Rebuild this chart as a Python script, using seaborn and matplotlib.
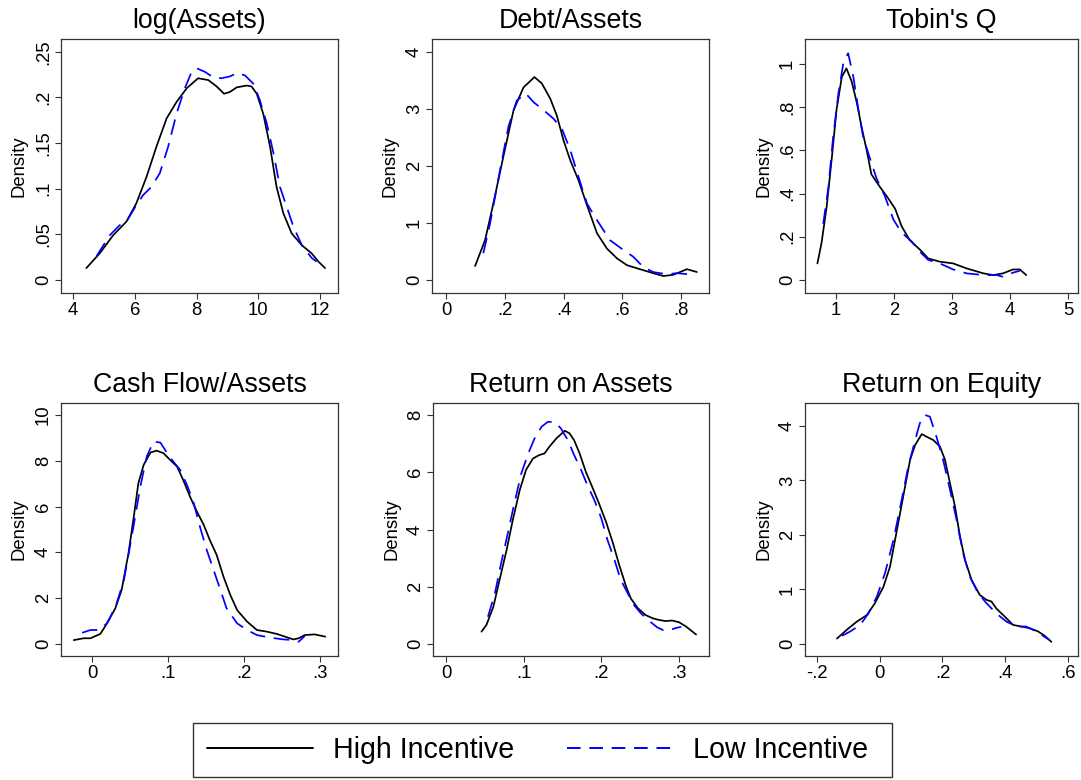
import matplotlib
matplotlib.use("Agg")
import matplotlib.pyplot as plt
from matplotlib.lines import Line2D
from matplotlib.patches import Rectangle
import pandas as pd
import seaborn as sns

# ---- series labels and panel titles ----
groups = ["High Incentive", "Low Incentive"]
titles = ["log(Assets)", "Debt/Assets", "Tobin's Q",
          "Cash Flow/Assets", "Return on Assets", "Return on Equity"]

# ---- kernel density curves (x grid, density) per variable and group ----
assets_x_hi = [4.43, 4.86, 5.30, 5.73, 6.05, 6.38, 6.70, 7.03, 7.35, 7.68, 8.05, 8.38, 8.65, 8.89,
               9.08, 9.30, 9.62, 9.78, 9.95, 10.16, 10.38, 10.59, 10.81, 11.08, 11.41, 11.73, 11.95, 12.16]
assets_y_hi = [.013, .029, .049, .064, .084, .113, .146, .177, .195, .210, .221, .219, .212, .204,
               .206, .211, .213, .212, .204, .182, .146, .102, .073, .051, .038, .029, .020, .013]
assets_x_lo = [4.76, 5.19, 5.51, 5.73, 6.05, 6.27, 6.54, 6.81, 7.08, 7.35, 7.62, 7.84, 8.00, 8.27, 8.54,
               8.81, 9.08, 9.32, 9.57, 9.84, 10.05, 10.27, 10.49, 10.70, 10.92, 11.14, 11.41, 11.73, 11.89]
assets_y_lo = [.026, .049, .060, .064, .082, .093, .102, .117, .146, .182, .210, .228, .232, .228, .222,
               .221, .223, .227, .224, .215, .197, .172, .139, .102, .080, .058, .038, .024, .020]

debt_x_hi = [.099, .133, .161, .195, .230, .264, .301, .326, .355, .377, .400, .423, .451, .480,
             .514, .548, .582, .616, .660, .705, .740, .773, .797, .820, .854]
debt_y_hi = [.245, .70, 1.34, 2.16, 2.98, 3.38, 3.56, 3.45, 3.18, 2.89, 2.45, 2.10, 1.75, 1.31,
             .82, .55, .38, .26, .19, .12, .07, .09, .14, .19, .14]
debt_x_lo = [.127, .150, .184, .2125, .241, .272, .298, .332, .366, .394, .423, .451, .480, .514,
             .558, .603, .637, .671, .705, .752, .786, .825]
debt_y_lo = [.47, .99, 1.93, 2.69, 3.15, 3.27, 3.12, 2.98, 2.83, 2.66, 2.28, 1.81, 1.34, 1.05,
             .70, .53, .41, .23, .14, .10, .12, .10]

tobin_x_hi = [.68, .75, .84, .93, 1.01, 1.10, 1.18, 1.27, 1.36, 1.44, 1.53, 1.61, 1.76, 1.87,
              2.02, 2.13, 2.27, 2.45, 2.59, 2.79, 3.02, 3.25, 3.54, 3.71, 3.88, 4.05, 4.17, 4.28]
tobin_y_hi = [.077, .17, .34, .57, .79, .94, .98, .92, .82, .71, .60, .49, .43, .39,
              .33, .25, .185, .14, .10, .085, .077, .054, .031, .023, .031, .049, .049, .023]
tobin_x_lo = [.78, .87, .95, 1.04, 1.13, 1.21, 1.30, 1.38, 1.47, 1.59, 1.70, 1.84, 1.99,
              2.13, 2.30, 2.45, 2.59, 2.79, 3.02, 3.25, 3.54, 3.77, 3.88, 4.05, 4.17]
tobin_y_lo = [.26, .43, .66, .86, 1.01, 1.05, .94, .80, .66, .56, .47, .39, .28,
              .22, .18, .13, .093, .077, .049, .031, .023, .023, .015, .034, .043]

cf_x_hi = [-.024, -.011, -.002, .011, .0197, .0307, .039, .048, .055, .061, .068, .077, .085, .094,
           .103, .112, .120, .129, .138, .147, .155, .164, .173, .182, .191, .204, .217, .230,
           .243, .254, .265, .272, .280, .293, .307]
cf_y_hi = [.17, .25, .25, .44, .90, 1.56, 2.36, 3.96, 5.56, 7.02, 7.82, 8.36, 8.44, 8.33,
           8.03, 7.74, 7.16, 6.43, 5.78, 5.20, 4.54, 3.89, 2.94, 2.14, 1.48, .98, .61, .54,
           .44, .32, .20, .25, .39, .42, .32]
cf_x_lo = [-.013, -.002, .009, .0197, .031, .042, .053, .064, .072, .081, .090, .099, .107, .116,
           .125, .134, .142, .151, .160, .169, .177, .191, .204, .217, .234, .252, .265, .272, .280]
cf_y_lo = [.49, .61, .61, .90, 1.63, 2.79, 4.83, 6.94, 8.18, 8.84, 8.79, 8.33, 7.96, 7.60,
           6.94, 6.14, 5.12, 4.10, 3.23, 2.36, 1.56, .90, .61, .39, .28, .20, .17, .10, .35]

roa_x_hi = [.0457, .052, .061, .069, .078, .086, .095, .103, .112, .120, .127, .133, .142, .153,
            .159, .165, .172, .180, .189, .197, .206, .215, .223, .232, .238, .247, .257, .266,
            .274, .283, .291, .300, .309, .322]
roa_y_hi = [.43, .66, 1.30, 2.24, 3.28, 4.33, 5.38, 6.08, 6.48, 6.60, 6.66, 6.89, 7.18, 7.45,
            7.36, 7.12, 6.66, 6.02, 5.44, 4.91, 4.27, 3.52, 2.76, 2.00, 1.59, 1.25, 1.01, .90,
            .84, .80, .82, .76, .61, .33]
roa_x_lo = [.054, .063, .071, .080, .088, .097, .106, .114, .123, .131, .140, .148, .157, .165,
            .174, .182, .191, .200, .208, .217, .225, .234, .242, .251, .262, .272, .280, .288,
            .296, .303]
roa_y_lo = [.95, 1.77, 2.82, 3.92, 4.91, 5.96, 6.66, 7.18, 7.59, 7.76, 7.76, 7.53, 7.12, 6.60,
            6.08, 5.55, 5.03, 4.39, 3.63, 2.93, 2.24, 1.77, 1.36, 1.07, .80, .58, .48, .48,
            .56, .60]

roe_x_hi = [-.136, -.105, -.073, -.041, -.015, .012, .033, .049, .065, .081, .097, .113, .134,
            .150, .171, .192, .208, .224, .240, .256, .272, .293, .319, .340, .356, .372, .399,
            .425, .452, .478, .505, .526, .547]
roe_y_hi = [.10, .26, .41, .53, .75, 1.05, 1.42, 1.91, 2.40, 2.89, 3.38, 3.65, 3.85,
            3.80, 3.74, 3.62, 3.38, 2.95, 2.52, 1.97, 1.54, 1.17, .90, .81, .78, .65, .50,
            .35, .32, .29, .23, .15, .04]
roe_x_lo = [-.120, -.094, -.062, -.036, -.009, .017, .044, .070, .091, .113, .128, .144, .160,
            .181, .202, .224, .245, .266, .287, .314, .340, .372, .404, .436, .467, .499, .526, .542]
roe_y_lo = [.15, .23, .35, .56, .87, 1.30, 1.91, 2.64, 3.25, 3.74, 4.05, 4.20, 4.17,
            3.80, 3.38, 2.83, 2.28, 1.66, 1.24, .93, .75, .56, .41, .32, .32, .23, .13, .07]

# ---- axis ticks and their labels ----
assets_xticks, assets_xlabels = [4, 6, 8, 10, 12], ["4", "6", "8", "10", "12"]
assets_yticks, assets_ylabels = [0, .05, .1, .15, .2, .25], ["0", ".05", ".1", ".15", ".2", ".25"]
debt_xticks, debt_xlabels = [0, .2, .4, .6, .8], ["0", ".2", ".4", ".6", ".8"]
debt_yticks, debt_ylabels = [0, 1, 2, 3, 4], ["0", "1", "2", "3", "4"]
tobin_xticks, tobin_xlabels = [1, 2, 3, 4, 5], ["1", "2", "3", "4", "5"]
tobin_yticks, tobin_ylabels = [0, .2, .4, .6, .8, 1], ["0", ".2", ".4", ".6", ".8", "1"]
cf_xticks, cf_xlabels = [0, .1, .2, .3], ["0", ".1", ".2", ".3"]
cf_yticks, cf_ylabels = [0, 2, 4, 6, 8, 10], ["0", "2", "4", "6", "8", "10"]
roa_xticks, roa_xlabels = [0, .1, .2, .3], ["0", ".1", ".2", ".3"]
roa_yticks, roa_ylabels = [0, 2, 4, 6, 8], ["0", "2", "4", "6", "8"]
roe_xticks, roe_xlabels = [-.2, 0, .2, .4, .6], ["-.2", "0", ".2", ".4", ".6"]
roe_yticks, roe_ylabels = [0, 1, 2, 3, 4], ["0", "1", "2", "3", "4"]

# ---- styling ----
sns.set_style("ticks")
plt.rcParams["font.family"] = ["Liberation Sans", "DejaVu Sans"]
plt.rcParams["text.color"] = "black"
plt.rcParams["axes.labelcolor"] = "black"
FRAME = "#333333"
palette = {groups[0]: "black", groups[1]: "#0000ff"}
dashes = {groups[0]: "", groups[1]: (9, 5)}

W, H = 1081, 780
fig = plt.figure(figsize=(W / 100, H / 100), dpi=100)
fig.patch.set_facecolor("white")


def rect(left, top, right, bottom):
    return [left / W, 1 - bottom / H, (right - left) / W, (bottom - top) / H]


panels = [
    dict(box=rect(61, 39, 338, 293), xlim=(3.61, 12.58), ylim=(-0.0143, 0.264),
         hi=(assets_x_hi, assets_y_hi), lo=(assets_x_lo, assets_y_lo),
         xt=(assets_xticks, assets_xlabels), yt=(assets_yticks, assets_ylabels)),
    dict(box=rect(432, 39, 709, 293), xlim=(-0.0477, 0.8953), ylim=(-0.228, 4.228),
         hi=(debt_x_hi, debt_y_hi), lo=(debt_x_lo, debt_y_lo),
         xt=(debt_xticks, debt_xlabels), yt=(debt_yticks, debt_ylabels)),
    dict(box=rect(805, 39, 1078, 293), xlim=(0.466, 5.172), ylim=(-0.06, 1.116),
         hi=(tobin_x_hi, tobin_y_hi), lo=(tobin_x_lo, tobin_y_lo),
         xt=(tobin_xticks, tobin_xlabels), yt=(tobin_yticks, tobin_ylabels)),
    dict(box=rect(61, 403, 338, 656), xlim=(-0.0408, 0.3237), ylim=(-0.524, 10.52),
         hi=(cf_x_hi, cf_y_hi), lo=(cf_x_lo, cf_y_lo),
         xt=(cf_xticks, cf_xlabels), yt=(cf_yticks, cf_ylabels)),
    dict(box=rect(433, 403, 709, 656), xlim=(-0.0167, 0.3386), ylim=(-0.42, 8.42),
         hi=(roa_x_hi, roa_y_hi), lo=(roa_x_lo, roa_y_lo),
         xt=(roa_xticks, roa_xlabels), yt=(roa_yticks, roa_ylabels)),
    dict(box=rect(805, 403, 1078, 656), xlim=(-0.238, 0.632), ylim=(-0.22, 4.42),
         hi=(roe_x_hi, roe_y_hi), lo=(roe_x_lo, roe_y_lo),
         xt=(roe_xticks, roe_xlabels), yt=(roe_yticks, roe_ylabels)),
]

for title, p in zip(titles, panels):
    ax = fig.add_axes(p["box"])
    df = pd.concat([
        pd.DataFrame({"x": p["hi"][0], "density": p["hi"][1], "group": groups[0]}),
        pd.DataFrame({"x": p["lo"][0], "density": p["lo"][1], "group": groups[1]}),
    ], ignore_index=True)
    sns.lineplot(data=df, x="x", y="density", hue="group", style="group",
                 palette=palette, dashes=dashes, estimator=None, sort=True,
                 linewidth=1.25, legend=False, ax=ax)

    ax.set_xlim(*p["xlim"])
    ax.set_ylim(*p["ylim"])
    ax.set_xticks(p["xt"][0])
    ax.set_xticklabels(p["xt"][1])
    ax.set_yticks(p["yt"][0])
    ax.set_yticklabels(p["yt"][1], rotation=90, va="center")
    ax.set_xlabel("")
    ax.set_ylabel("Density", fontsize=13.3, color="black")
    ax.yaxis.set_label_coords(-0.150, 0.5)
    ax.yaxis.label.set_verticalalignment("center")
    ax.set_title(title, fontsize=19.3, pad=8, color="black")

    for side in ("left", "right", "top", "bottom"):
        ax.spines[side].set_visible(True)
        ax.spines[side].set_color(FRAME)
        ax.spines[side].set_linewidth(0.9)
    ax.tick_params(direction="out", length=4.5, width=0.8, color=FRAME,
                   labelsize=13.3, pad=2, labelcolor="black")
    ax.set_facecolor("white")

# legend: framed box spanning the bottom, entries laid out in one row
fig.add_artist(Rectangle((193 / W, 1 - 777 / H), (892 - 193) / W, (777 - 723) / H,
                         transform=fig.transFigure, facecolor="white",
                         edgecolor=FRAME, linewidth=1.0))
handles = [Line2D([], [], color="black", linewidth=1.4),
           Line2D([], [], color="#0000ff", linewidth=1.4, dashes=(7, 4.5))]
leg = fig.legend(handles, groups, loc="center left", bbox_to_anchor=(207 / W, 1 - 750 / H),
                 ncol=2, frameon=False, fontsize=20.6, handlelength=3.7,
                 handletextpad=0.7, columnspacing=1.85, borderpad=0.0,
                 borderaxespad=0.0)

fig.savefig("out.png", dpi=100, facecolor="white")
